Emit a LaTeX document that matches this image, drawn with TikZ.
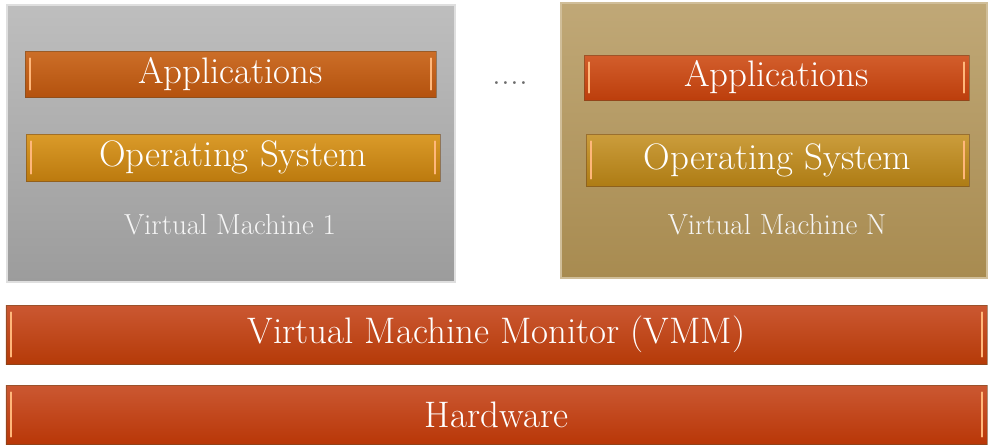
\documentclass[tikz,border=0pt]{standalone}
\usepackage{tikz}

\definecolor{vmgraytop}{HTML}{BEBEBE}
\definecolor{vmgraybot}{HTML}{9C9C9C}
\definecolor{vmtantop}{HTML}{C0A877}
\definecolor{vmtanbot}{HTML}{A88B50}
\definecolor{apptop}{HTML}{CC6E28}
\definecolor{appbot}{HTML}{B4520E}
\definecolor{ostop}{HTML}{DA9B2A}
\definecolor{osbot}{HTML}{BC7A0E}
\definecolor{appntop}{HTML}{D35E2C}
\definecolor{appnbot}{HTML}{BC3E0C}
\definecolor{osntop}{HTML}{CB9D3C}
\definecolor{osnbot}{HTML}{AE7C14}
\definecolor{redtop}{HTML}{CB5832}
\definecolor{redbot}{HTML}{B53A08}
\definecolor{glintcol}{HTML}{FFB77A}

\begin{document}
\begin{tikzpicture}
        \tikzstyle{every node}=[inner sep=0pt, outer sep=0pt]
        \tikzstyle{vmbox}=[rectangle, draw=white!75!gray, line width=1.2pt]
        \tikzstyle{bar}=[rectangle, draw=brown!60!black, draw opacity=.55, line width=.5pt, text=white, font=\fontsize{21}{24}\selectfont]
        \tikzstyle{vmlabel}=[text=white!92!gray, font=\fontsize{16.5}{19}\selectfont]
        \tikzstyle{glint}=[glintcol, line width=1.3pt, line cap=round]
        \useasboundingbox (0, 0) rectangle (19.76, -8.94);
        % the two virtual machines
        \node [vmbox, top color=vmgraytop, bottom color=vmgraybot, minimum width=8.96cm, minimum height=5.54cm] (vm1) at (4.62, -2.87) {};
        \node [vmbox, draw=vmtantop!75!white, top color=vmtantop, bottom color=vmtanbot, minimum width=8.52cm, minimum height=5.50cm] (vmn) at (15.48, -2.81) {};
        \node [bar, top color=apptop, bottom color=appbot, minimum width=8.22cm, minimum height=.92cm] (app1) at (4.61, -1.48) {Applications};
        \node [bar, top color=ostop, bottom color=osbot, minimum width=8.28cm, minimum height=.94cm] (os1) at (4.66, -3.15) {Operating System};
        \node [vmlabel] (lab1) at (4.60, -4.50) {Virtual Machine 1};
        \node [bar, top color=appntop, bottom color=appnbot, minimum width=7.70cm, minimum height=.90cm] (appn) at (15.53, -1.55) {Applications};
        \node [bar, top color=osntop, bottom color=osnbot, minimum width=7.66cm, minimum height=1.04cm] (osn) at (15.55, -3.20) {Operating System};
        \node [vmlabel] (labn) at (15.54, -4.50) {Virtual Machine N};
        \node [text=gray!85!black, font=\fontsize{20}{22}\selectfont] (dots) at (10.21, -1.66) {....};
        % layers below
        \node [bar, top color=redtop, bottom color=redbot, minimum width=19.62cm, minimum height=1.18cm] (vmm) at (9.93, -6.69) {Virtual Machine Monitor (VMM)};
        \node [bar, top color=redtop, bottom color=redbot!95!red, minimum width=19.62cm, minimum height=1.18cm] (hw) at (9.93, -8.29) {Hardware};
        \foreach \b in {app1, os1, appn, osn, vmm, hw} {
          \draw [glint] ([shift={(.1,-.15)}]\b.north west) -- ([shift={(.1,.15)}]\b.south west);
          \draw [glint] ([shift={(-.1,-.15)}]\b.north east) -- ([shift={(-.1,.15)}]\b.south east);
        }
      \end{tikzpicture}
\end{document}
